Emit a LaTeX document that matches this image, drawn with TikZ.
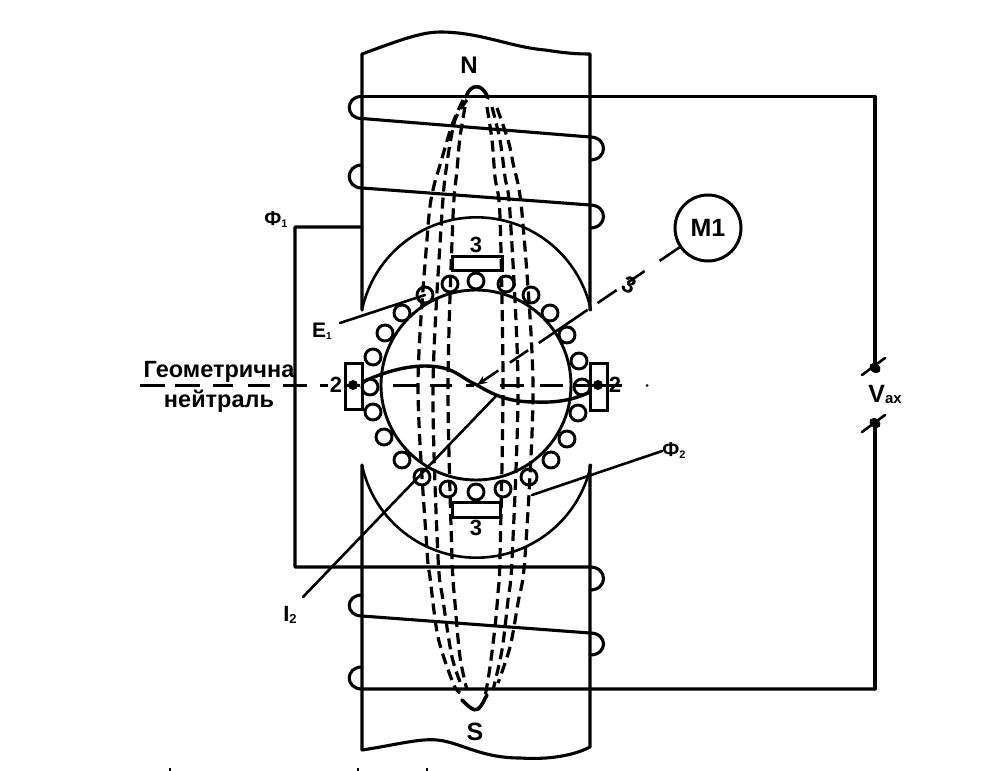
\documentclass[tikz,border=0pt]{standalone}
\usepackage{fontspec}
\setmainfont{Liberation Sans}
\usetikzlibrary{arrows.meta,calc}
\tikzset{
  wire/.style={line width=3.1pt,line cap=round,line join=round},
  thin wire/.style={line width=2.6pt,line cap=round,line join=round},
  windingdash/.style={line width=3.2pt,dash pattern=on 11pt off 6pt},
  turn/.style={circle,draw,line width=2.9pt,minimum size=16pt,inner sep=0pt},
  label/.style={font=\bfseries,inner sep=0pt,text=black},
  brushbox/.style={draw,line width=3pt,inner sep=0pt},
  neutral/.style={line width=3pt}
}
\begin{document}
\begin{tikzpicture}[x=1pt,y=-1pt]
\useasboundingbox (0,0) rectangle (994,771);
% pole outlines
\coordinate (ptl) at (362,54); \coordinate (ptr) at (590,54);
\coordinate (pbl) at (362,750); \coordinate (pbr) at (590,747);
\coordinate (shl) at (362,310); \coordinate (shr) at (590,310);
\coordinate (sbl) at (362,465); \coordinate (sbr) at (590,465);
\draw[wire] (shl) -- (ptl) .. controls (395,42) and (420,32) .. (440,32) .. controls (480,32) and (510,47) .. (545,50) .. controls (565,53) and (575,54) .. (ptr) -- (shr);
\draw[wire] (sbl) -- (pbl) .. controls (390,746) and (420,738) .. (437,740) .. controls (460,742) and (480,758) .. (520,758) .. controls (550,760) and (575,755) .. (pbr) -- (sbr);
\draw[thin wire] (shl) arc[start angle=192,end angle=348,radius=117];
\draw[thin wire] (sbl) arc[start angle=168,end angle=12,radius=117];
% field windings
\coordinate (vt) at (875,96.5); \coordinate (vb) at (875,689);
\coordinate (ta) at (362,96.5); \coordinate (tb) at (362,118.5);
\coordinate (tc) at (590,137); \coordinate (td) at (590,160);
\coordinate (te) at (362,165); \coordinate (tf) at (362,188);
\coordinate (tg) at (590,205); \coordinate (th) at (590,228);
\coordinate (ba) at (590,567); \coordinate (bb) at (590,590);
\coordinate (bc) at (362,595); \coordinate (bd) at (362,616);
\coordinate (be) at (590,633); \coordinate (bf) at (590,655);
\coordinate (bg) at (362,667); \coordinate (bh) at (362,689);
\coordinate (f1) at (295,227); \coordinate (f2) at (295,567); \coordinate (f0) at (362,227);
\draw[wire] (vt) -- (ta);
\draw[wire] (ta) .. controls (345,96) and (345,119) .. (tb) -- (tc) .. controls (608,137) and (608,160) .. (td);
\draw[wire] (te) .. controls (345,165) and (345,188) .. (tf) -- (tg) .. controls (608,205) and (608,228) .. (th);
\draw[wire] (f0) -- (f1) -- (f2) -- (ba) .. controls (608,567) and (608,590) .. (bb);
\draw[wire] (bc) .. controls (345,595) and (345,616) .. (bd) -- (be) .. controls (608,633) and (608,655) .. (bf);
\draw[wire] (bg) .. controls (345,667) and (345,689) .. (bh) -- (vb);
% supply
\coordinate (v1) at (875,368); \coordinate (v2) at (875,423);
\draw[wire] (vt) -- (v1); \draw[wire] (vb) -- (v2);
\fill (v1) ellipse[x radius=6pt,y radius=4.5pt,rotate=-35];
\fill (v2) ellipse[x radius=6pt,y radius=4.5pt,rotate=-35];
\draw[thin wire] (862,375) -- (885,358);
\draw[thin wire] (862,432) -- (885,415);
% rotor
\node[circle,draw,line width=2.9pt,minimum size=190pt,inner sep=0pt] (rotor) at (476,385) {};
\foreach \n/\p in {a/{425,295},b/{450,284},c/{476,281},d/{506,284},e/{531,295},f/{550,313},g/{567,335},h/{579,361},i/{582,387},j/{578,413},k/{567,439},l/{551,460},m/{529,477},n/{503,489},o/{476,492},p/{448,489},q/{422,477},r/{402,460},s/{384,437},t/{373,412},u/{370,387},v/{373,357},w/{385,333},x/{402,313}}
  \node[turn] (rt\n) at (\p) {};
% armature conductors (dashed)
\draw[windingdash] plot[smooth] coordinates {(463,100) (452,125) (440,165) (433,190) (428,227) (418,385) (427,550) (430,577) (438,637) (453,683) (460,693)};
\draw[windingdash] plot[smooth] coordinates {(467,100) (455,120) (447,163) (442,213) (433,385) (438,557) (443,600) (452,657) (462,687)};
\draw[windingdash] plot[smooth] coordinates {(465,107) (460,137) (457,170) (453,217) (448,385) (452,557) (455,603) (460,657) (467,690)};
\draw[windingdash] plot[smooth] coordinates {(487,107) (492,140) (495,177) (500,217) (503,385) (500,557) (498,593) (495,627) (490,667) (485,697)};
\draw[windingdash] plot[smooth] coordinates {(492,107) (500,140) (505,177) (510,213) (518,385) (512,560) (508,600) (502,650) (493,690)};
\draw[windingdash] plot[smooth] coordinates {(497,108) (508,140) (513,163) (522,213) (533,385) (525,557) (518,603) (510,647) (498,683)};
% pole tips of the winding
\coordinate (nl) at (466,97); \coordinate (nr) at (488,98);
\coordinate (sl) at (462,700); \coordinate (sr) at (487,695);
\draw[line width=3.6pt,line cap=round] (nl) .. controls (470,84) and (482,82) .. (nr);
\draw[line width=3.6pt,line cap=round] (sl) .. controls (468,706) and (474,712) .. (478,709) .. controls (482,706) and (484,700) .. (sr);
% brushes
\node[brushbox,minimum width=50pt,minimum height=14pt] (b3t) at (477,263.5) {};
\node[brushbox,minimum width=48pt,minimum height=15pt] (b3b) at (476,509.5) {};
\node[brushbox,minimum width=17pt,minimum height=46pt] (b2l) at (353.5,386) {};
\node[brushbox,minimum width=17pt,minimum height=47pt] (b2r) at (598.5,386.5) {};
\fill (353,385) circle[radius=5pt];
\fill (598,385) circle[radius=5pt];
% geometric neutral
\foreach \a/\b in {140/165,175/200,213/233,248/270,283/307,320/328,345/360,393/418,430/452,466/474,500/524,540/563,575/622}
  \draw[neutral] (\a,385) -- (\b,385);
\fill (647,385.5) circle[radius=1.5pt];
% EMF curve
\coordinate (ea) at (363,382); \coordinate (eb) at (590,392);
\draw[line width=3.4pt,line cap=round] (ea) .. controls (375,376) and (400,366) .. (425,366) .. controls (455,366) and (460,378) .. (477,385) .. controls (495,396) and (510,402) .. (535,402) .. controls (560,403) and (575,399) .. (eb);
% labels
\node[label,font=\bfseries\fontsize{24}{24}\selectfont] (N) at (469,65) {N};
\node[label,font=\bfseries\fontsize{25}{25}\selectfont] (S) at (475,732) {S};
\node[label,font=\bfseries\fontsize{25}{25}\selectfont] (M1) at (708,228) {M1};
\node[circle,draw,line width=3pt,minimum size=66pt,inner sep=0pt] (motor) at (708,228) {};
\node[label,font=\bfseries\fontsize{22}{22}\selectfont] at (476,245) {3};
\node[label,font=\bfseries\fontsize{22}{22}\selectfont] at (476,528) {3};
\node[label,font=\bfseries\fontsize{22}{22}\selectfont] at (336,385) {2};
\node[label,font=\bfseries\fontsize{22}{22}\selectfont] at (615,385) {2};
\node[label,font=\bfseries\fontsize{23}{23}\selectfont,rotate=-25] (three) at (629,285) {3};
\node[label,font=\bfseries\fontsize{21}{21}\selectfont] (E1) at (322,331) {E\raisebox{-2pt}{\fontsize{10}{10}\selectfont 1}};
\node[label,font=\bfseries\fontsize{20}{20}\selectfont] (F1) at (276,220) {Ф\raisebox{-2pt}{\fontsize{11}{11}\selectfont 1}};
\node[label,font=\bfseries\fontsize{20}{20}\selectfont] (F2) at (674,451) {Ф\raisebox{-2pt}{\fontsize{11}{11}\selectfont 2}};
\node[label,font=\bfseries\fontsize{25}{25}\selectfont] (Vax) at (885,394) {V\raisebox{-1pt}{\fontsize{15}{15}\selectfont ax}};
\node[label,font=\bfseries\fontsize{22}{22}\selectfont] (I2) at (290,615) {I\raisebox{-2pt}{\fontsize{13}{13}\selectfont 2}};
\node[label,font=\bfseries\fontsize{23.5}{23.5}\selectfont] (neut1) at (219,372) {Геометрична};
\node[label,font=\bfseries\fontsize{23.5}{23.5}\selectfont] (neut2) at (219,401) {нейтраль};
% leaders
\coordinate (e1s) at (340,323);
\coordinate (i2a) at (497,395); \coordinate (i2b) at (303,597);
\coordinate (f2s) at (532,495);
\coordinate (tip) at (477,385);
\draw[thin wire] (e1s) -- (rta.center);
\draw[thin wire] (i2a) -- (i2b);
\draw[thin wire] (f2s) -- (F2.west);
\draw[thin wire,dash pattern=on 24pt off 18pt on 21pt off 13pt on 23pt off 12pt on 59pt off 13pt on 22pt off 14pt on 30pt off 10pt,line cap=butt,-{Stealth[length=10pt,width=8pt]}] (motor) -- (tip);
% cut-off marks at the bottom edge
\foreach \x in {170,358,427} \draw[line width=2.5pt] (\x,768) -- (\x,771);
\end{tikzpicture}
\end{document}
